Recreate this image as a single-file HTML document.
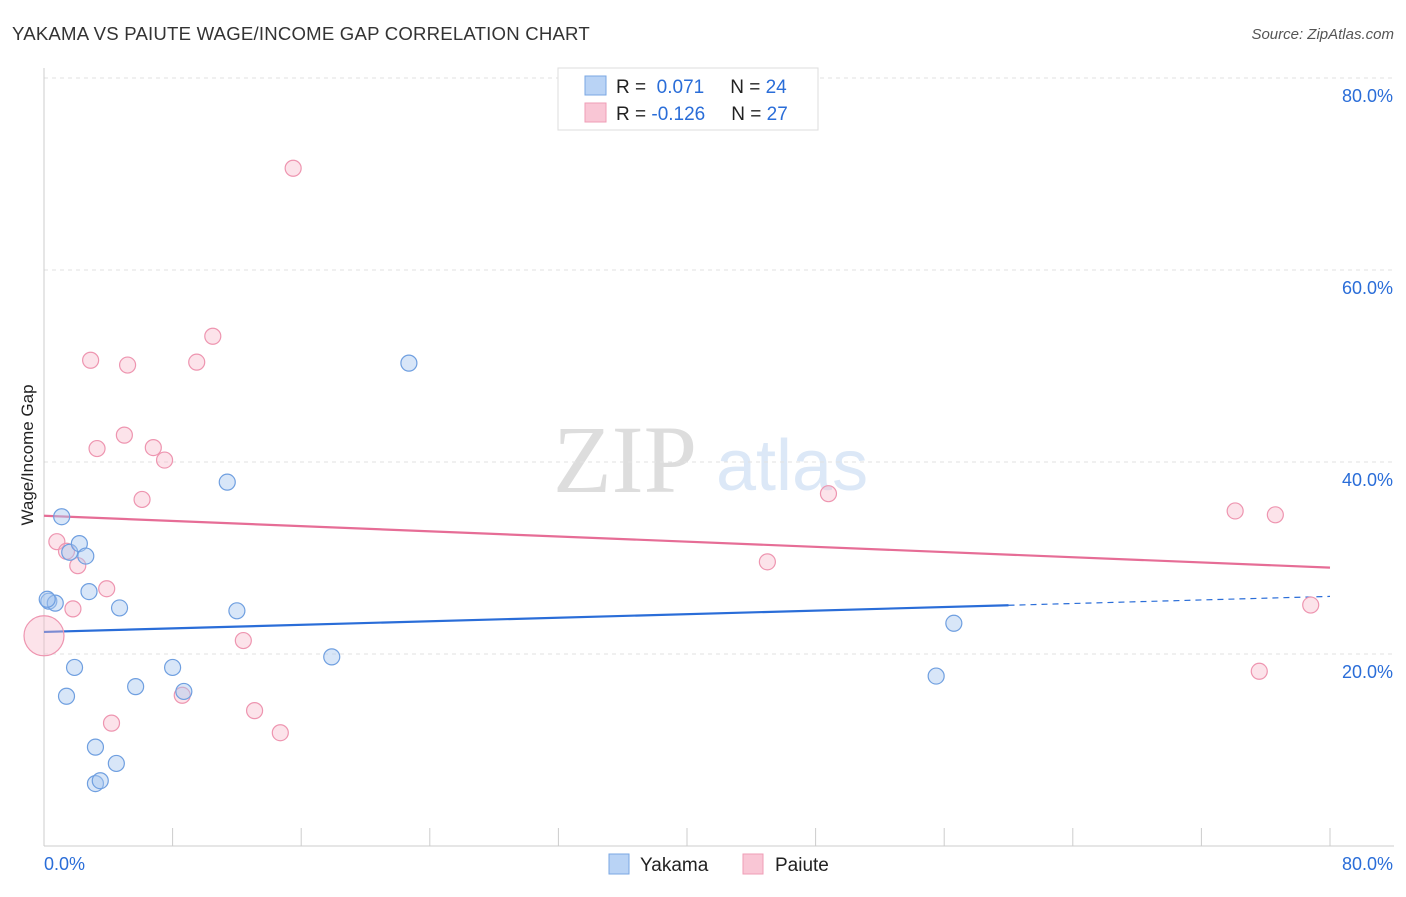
<!DOCTYPE html>
<html><head><meta charset="utf-8"><style>
body{margin:0;background:#fff;font-family:"Liberation Sans",sans-serif;}
</style></head><body>
<svg width="1406" height="892" xmlns="http://www.w3.org/2000/svg" id="svg">
<text x="12" y="40" font-size="18.6" fill="#333" letter-spacing="0.2">YAKAMA VS PAIUTE WAGE/INCOME GAP CORRELATION CHART</text>
<text x="1394" y="39" font-size="15" fill="#555" font-style="italic" text-anchor="end">Source: ZipAtlas.com</text>
<g>
<text x="553" y="492" font-size="96" fill="#ddd" font-family="Liberation Serif,serif">ZIP</text>
<text x="716" y="490" font-size="72" fill="#dce8f7">atlas</text>
</g>
<text transform="translate(33,455) rotate(-90)" font-size="17" fill="#222" text-anchor="middle">Wage/Income Gap</text>
<g id="grid"></g><g id="trend"></g><g id="pts"></g>
<g>
<rect x="558" y="68" width="260" height="62" fill="#fff" stroke="#ddd"/>
<rect x="585" y="76" width="21" height="19" fill="#b9d3f5" stroke="#7aa7e3"/>
<rect x="585" y="103" width="21" height="19" fill="#f9c6d5" stroke="#ef9db6"/>
<text x="616" y="93" font-size="19" fill="#222">R = <tspan fill="#2a6dd8">&#160;0.071</tspan><tspan dx="26">N = </tspan><tspan fill="#2a6dd8">24</tspan></text>
<text x="616" y="120" font-size="19" fill="#222">R = <tspan fill="#2a6dd8">-0.126</tspan><tspan dx="26">N = </tspan><tspan fill="#2a6dd8">27</tspan></text>
</g>
<g>
<rect x="609" y="854" width="20" height="20" fill="#b9d3f5" stroke="#7aa7e3"/>
<text x="640" y="871" font-size="19" fill="#222">Yakama</text>
<rect x="743" y="854" width="20" height="20" fill="#f9c6d5" stroke="#ef9db6"/>
<text x="775" y="871" font-size="19" fill="#222">Paiute</text>
</g>
</svg>
<script>
const yTicks=[20,40,60,80];
const xTickLabels=["0.0%","80.0%"];
const yakamaX=[1.1,1.6,2.2,2.6,2.8,0.3,0.7,4.7,1.9,1.4,5.7,8.0,8.7,3.2,4.5,3.2,3.5,11.4,12.0,17.9,22.7,56.6,55.5,0.2];
const yakamaY=[34.3,30.6,31.5,30.2,26.5,25.5,25.3,24.8,18.6,15.6,16.6,18.6,16.1,10.3,8.6,6.5,6.8,37.9,24.5,19.7,50.3,23.2,17.7,25.7];
const paiuteX=[0.8,1.4,2.1,1.8,3.9,2.9,5.2,3.3,5.0,6.1,6.8,7.5,9.5,10.5,15.5,8.6,4.2,12.4,13.1,14.7,48.8,45.0,74.1,76.6,78.8,75.6,0];
const paiuteY=[31.7,30.7,29.2,24.7,26.8,50.6,50.1,41.4,42.8,36.1,41.5,40.2,50.4,53.1,70.6,15.7,12.8,21.4,14.1,11.8,36.7,29.6,34.9,34.5,25.1,18.2,21.9];
const yakamaTrend=[22.3,26.0];
const paiuteTrend=[34.4,29.0];
const NS="http://www.w3.org/2000/svg";
const X=v=>44+v*16.075, Y=v=>846-v*9.6;
function mk(t,a,p){const e=document.createElementNS(NS,t);for(const k in a)e.setAttribute(k,a[k]);p.appendChild(e);return e;}
const g=document.getElementById('grid');
yTicks.forEach(t=>{
 const l=mk('line',{x1:44,x2:1394,y1:Y(t),y2:Y(t),stroke:'#e2e2e2','stroke-dasharray':'4,4'},g);
 
 
 const tx=mk('text',{x:1393,y:Y(t)+24,'font-size':18,fill:'#2a6dd8','text-anchor':'end'},g);
 tx.textContent=t.toFixed(1)+'%';
 
 
});
mk('line',{x1:44,x2:44,y1:68,y2:846,stroke:'#ccc'},g);
mk('line',{x1:44,x2:1394,y1:846,y2:846,stroke:'#ccc'},g);
for(let i=0;i<=10;i++){const l=mk('line',{x1:X(i*8),x2:X(i*8),y1:828,y2:846,stroke:'#ccc'},g);
 
 }
[[0,'start',44],[80,'end',1393]].forEach((d,i)=>{const t=mk('text',{x:d[2],y:870,'font-size':18,fill:'#2a6dd8','text-anchor':d[1]},g);t.textContent=xTickLabels[i];
 
 });
const tr=document.getElementById('trend');
const by=v=>yakamaTrend[0]+(yakamaTrend[1]-yakamaTrend[0])*v/80;
let l1=mk('line',{x1:X(0),y1:Y(by(0)),x2:X(60),y2:Y(by(60)),stroke:'#2a6dd8','stroke-width':2.2},tr);


let l2=mk('line',{x1:X(60),y1:Y(by(60)),x2:X(80),y2:Y(by(80)),stroke:'#2a6dd8','stroke-width':1.2,'stroke-dasharray':'6,5'},tr);


let l3=mk('line',{x1:X(0),y1:Y(paiuteTrend[0]),x2:X(80),y2:Y(paiuteTrend[1]),stroke:'#e66d96','stroke-width':2.2},tr);


const p=document.getElementById('pts');
paiuteX.forEach((x,i)=>{const c=mk('circle',{cx:X(x),cy:Y(paiuteY[i]),r:(x===0?20:8),fill:'rgba(247,184,203,0.4)',stroke:'#ee95b0','stroke-width':1.2},p);
 
 });
yakamaX.forEach((x,i)=>{const c=mk('circle',{cx:X(x),cy:Y(yakamaY[i]),r:8,fill:'rgba(169,200,240,0.45)',stroke:'#6f9fe0','stroke-width':1.2},p);
 
 });
</script>
</body></html>
